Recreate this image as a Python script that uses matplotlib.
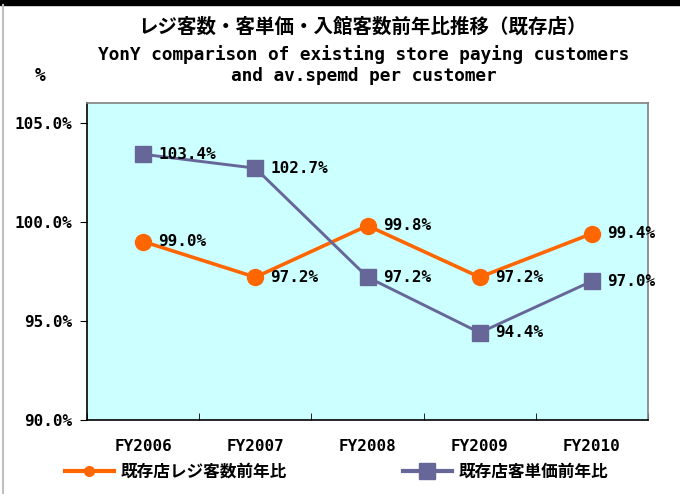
import numpy as np
import matplotlib
matplotlib.use("Agg")
import matplotlib.pyplot as plt
from matplotlib.lines import Line2D
from matplotlib.patches import Rectangle

plt.rcParams['font.family'] = ['Noto Sans CJK JP', 'DejaVu Sans']

# data
years = ["FY2006", "FY2007", "FY2008", "FY2009", "FY2010"]
customers = [99.0, 97.2, 99.8, 97.2, 99.4]
spend = [103.4, 102.7, 97.2, 94.4, 97.0]
label_customers = "既存店レジ客数前年比"
label_spend = "既存店客単価前年比"
title_jp = "レジ客数・客単価・入館客数前年比推移（既存店）"
title_en = "YonY comparison of existing store paying customers\nand av.spemd per customer"

orange = "#FF6600"
purple = "#666699"
mono = "DejaVu Sans Mono"

fig = plt.figure(figsize=(6.8, 4.94), dpi=100)
ax = fig.add_axes([0.128, 0.150, 0.825, 0.642])
ax.set_facecolor("#CCFFFF")

x = np.arange(len(years))
ax.plot(x, customers, color=orange, lw=2.6, marker="o", ms=11.5, zorder=3)
ax.plot(x, spend, color=purple, lw=2.1, marker="s", ms=11, zorder=3)

for xi, v in zip(x, customers):
    ax.annotate(f"{v:.1f}%", (xi, v), xytext=(11, 0), textcoords="offset points",
                ha="left", va="center", family=mono, fontweight="bold", fontsize=11.5)
for xi, v in zip(x, spend):
    ax.annotate(f"{v:.1f}%", (xi, v), xytext=(11, 0), textcoords="offset points",
                ha="left", va="center", family=mono, fontweight="bold", fontsize=11.5)

ax.set_xlim(-0.5, len(years) - 0.5)
ax.set_ylim(90, 106)
ax.set_yticks([90, 95, 100, 105])
ax.set_yticklabels([f"{t:.1f}%" for t in [90, 95, 100, 105]], family=mono,
                   fontweight="bold", fontsize=11.5)
ax.set_xticks(x)
ax.set_xticklabels(years, family=mono, fontweight="bold", fontsize=11.5)
ax.set_xticks(np.arange(len(years) + 1) - 0.5, minor=True)
ax.tick_params(axis="x", which="major", length=0, pad=14)
ax.tick_params(axis="x", which="minor", direction="in", length=5)
ax.tick_params(axis="y", direction="out", length=5, pad=6)

for s in ["left", "bottom"]:
    ax.spines[s].set_color("black")
    ax.spines[s].set_linewidth(1.2)
for s in ["top", "right"]:
    ax.spines[s].set_color("#808080")
    ax.spines[s].set_linewidth(1.2)

# titles
cx = 0.128 + 0.825 / 2
fig.text(cx - 0.008, 1 - 27 / 494, title_jp, ha="center", va="center",
         fontsize=14, fontweight="bold")
fig.text(cx - 0.006, 1 - 65 / 494, title_en, ha="center", va="center", family=mono,
         fontsize=12.8, fontweight="bold", linespacing=1.2)
fig.text(40 / 680, 1 - 76 / 494, "%", ha="center", va="center", family=mono,
         fontsize=13, fontweight="bold")

# legend
handles = [
    Line2D([], [], color=orange, lw=3, marker="o", ms=7),
    Line2D([], [], color=purple, lw=3, marker="s", ms=11),
]
fig.legend(handles, [label_customers, label_spend], ncol=2, frameon=False,
           loc="center", bbox_to_anchor=(0.495, 1 - 472 / 494),
           prop={"size": 12, "weight": "bold"}, handlelength=2.9,
           columnspacing=7.0, handletextpad=0.4)

# outer frame
fig.patches.append(Rectangle((0, 1 - 5 / 494), 1, 5 / 494, transform=fig.transFigure,
                             color="black", zorder=0))
fig.lines.append(Line2D([2.5 / 680, 2.5 / 680], [0, 1 - 5 / 494],
                        transform=fig.transFigure, color="#C0C0C0", lw=1.5))

fig.savefig("out.png", dpi=100)
